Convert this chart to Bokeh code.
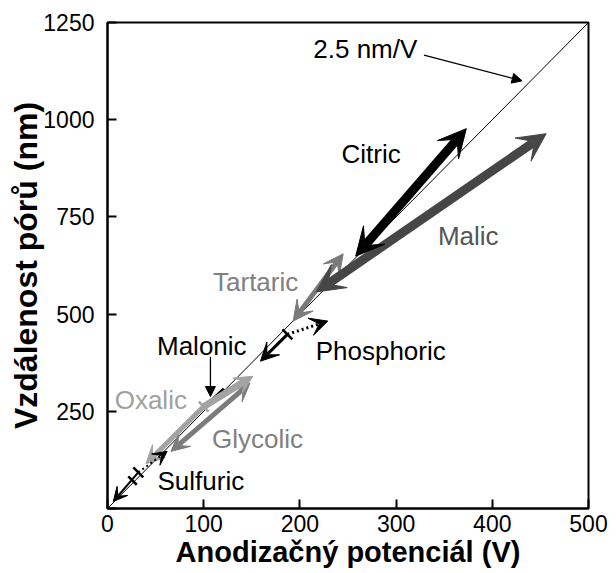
import math
from bokeh.plotting import figure
from bokeh.models import Arrow, VeeHead, NormalHead, Range1d, FixedTicker, Label
from bokeh.embed import file_html
from bokeh.resources import INLINE

# ---------------- data ----------------
slope_nm_per_v = 2.5
v_ref = [0, 500]
x_ticks = [0, 100, 200, 300, 400, 500]
y_ticks = [0, 250, 500, 750, 1000, 1250]

acids = ["Tartaric", "Malic", "Citric", "Glycolic", "Oxalic", "Phosphoric", "Malonic", "Sulfuric"]
v_lo = [193, 217, 258, 66, 40, 159, 101, 6]
d_lo = [482, 557, 649, 147, 115, 379, 262, 18]
v_hi = [245, 456, 373, 148, 151, 229, 121, 62]
d_hi = [655, 964, 977, 322, 340, 482, 308, 147]
# start of the dotted part (None = fully solid)
v_mid = [None, None, None, None, 100, 187, None, 32]
d_mid = [None, None, None, None, 262, 448, None, 93]
sulfuric_extra_v = [26]
sulfuric_extra_d = [72]

# ---------------- styles ----------------
line_col = {"Citric": "#000000", "Malic": "#464646", "Tartaric": "#7a7a7a",
            "Phosphoric": "#000000", "Malonic": "#000000", "Oxalic": "#a3a3a3",
            "Glycolic": "#7c7c7c", "Sulfuric": "#000000"}
lab_col = {"Citric": "#000000", "Malic": "#555555", "Tartaric": "#808080",
           "Phosphoric": "#000000", "Malonic": "#000000", "Oxalic": "#a0a0a0",
           "Glycolic": "#808080", "Sulfuric": "#000000"}
lw = {"Citric": 9, "Malic": 9, "Tartaric": 5, "Phosphoric": 3, "Malonic": 3,
      "Oxalic": 5, "Glycolic": 5, "Sulfuric": 2}
head = {"Citric": 28, "Malic": 28, "Tartaric": 20, "Phosphoric": 18, "Malonic": 0,
        "Oxalic": 18, "Glycolic": 18, "Sulfuric": 14}
lab_pos = {"Citric": (274, 912), "Malic": (375, 701), "Tartaric": (154, 582),
           "Malonic": (98, 418), "Phosphoric": (284, 405), "Oxalic": (45, 278),
           "Glycolic": (156, 178), "Sulfuric": (97, 70)}
FONT = "Liberation Sans"

p = figure(width=616, height=573, output_backend="svg", toolbar_location=None,
           x_range=Range1d(0, 500), y_range=Range1d(0, 1250),
           min_border_left=107, min_border_right=28, min_border_top=22,
           min_border_bottom=65)
p.grid.visible = False
p.outline_line_color = "black"
p.outline_line_width = 2
p.background_fill_color = "white"
p.border_fill_color = "white"

for ax in (p.xaxis[0], p.yaxis[0]):
    ax.axis_line_width = 2
    ax.major_tick_line_width = 2
    ax.major_tick_in = 9
    ax.major_tick_out = 0
    ax.minor_tick_line_color = None
    ax.major_label_text_font = FONT
    ax.major_label_text_font_size = "23px"
    ax.major_label_text_color = "black"
    ax.axis_label_text_font = FONT
    ax.axis_label_text_font_style = "bold"
    ax.axis_label_text_color = "black"

p.xaxis.ticker = FixedTicker(ticks=x_ticks)
p.yaxis.ticker = FixedTicker(ticks=y_ticks)
p.yaxis.major_label_overrides = {0: ""}
p.xaxis.axis_label = "Anodizačný potenciál (V)"
p.yaxis.axis_label = "Vzdálenost pórů (nm)"
p.xaxis.axis_label_text_font_size = "29px"
p.yaxis.axis_label_text_font_size = "32px"
p.xaxis.major_label_standoff = 6
p.xaxis.axis_label_standoff = 1
p.yaxis.major_label_standoff = 13
p.yaxis.axis_label_standoff = -4

# reference line 2.5 nm/V
p.line(v_ref, [slope_nm_per_v * v for v in v_ref], line_color="black", line_width=1)

def add_arrow(x0, y0, x1, y1, color, width, hsize, dash="solid", start=False):
    kw = {}
    if hsize > 0:
        kw["end"] = VeeHead(size=hsize, fill_color=color, line_color=color)
        if start:
            kw["start"] = VeeHead(size=hsize, fill_color=color, line_color=color)
    else:
        kw["end"] = None
    p.add_layout(Arrow(x_start=x0, y_start=y0, x_end=x1, y_end=y1,
                       line_color=color, line_width=width, line_dash=dash, **kw))

for i, name in enumerate(acids):
    c = line_col[name]
    if name == "Malonic":
        p.segment(x0=[v_lo[i]], y0=[d_lo[i]], x1=[v_hi[i]], y1=[d_hi[i]],
                  line_color=c, line_width=lw[name])
        continue
    if v_mid[i] is None:
        add_arrow(v_lo[i], d_lo[i], v_hi[i], d_hi[i], c, lw[name], head[name], start=True)
    else:
        add_arrow(v_mid[i], d_mid[i], v_lo[i], d_lo[i], c, lw[name], head[name])
        if name == "Oxalic":
            add_arrow(v_mid[i], d_mid[i], v_hi[i], d_hi[i], c, lw[name] + 2, head[name])
            fx = v_mid[i] + 0.8 * (v_hi[i] - v_mid[i])
            fy = d_mid[i] + 0.8 * (d_hi[i] - d_mid[i])
            p.segment(x0=[v_mid[i]], y0=[d_mid[i]], x1=[fx], y1=[fy],
                      line_color="white", line_width=4)
            p.segment(x0=[v_mid[i]], y0=[d_mid[i]], x1=[fx], y1=[fy],
                      line_color=c, line_width=2.5, line_dash="2 3")
        else:
            add_arrow(v_mid[i], d_mid[i], v_hi[i], d_hi[i], c, 3 if name == "Phosphoric" else lw[name],
                      head[name], dash="2 3")
        p.scatter([v_mid[i]], [d_mid[i]], marker="dash", size=14, angle=-math.pi / 4,
                  line_color=c, line_width=2.5)
        if name == "Sulfuric":
            p.scatter(sulfuric_extra_v, sulfuric_extra_d, marker="dash", size=12,
                      angle=-math.pi / 4, line_color=c, line_width=2.5)

# labels
for name in acids:
    x, y = lab_pos[name]
    p.add_layout(Label(x=x, y=y, text=name, text_align="center", text_baseline="middle",
                       text_font=FONT, text_font_size="26px", text_color=lab_col[name]))

p.add_layout(Label(x=268, y=1183, text="2.5 nm/V", text_align="center",
                   text_baseline="middle", text_font=FONT, text_font_size="26px",
                   text_color="black"))
p.add_layout(Arrow(x_start=329, y_start=1166, x_end=431, y_end=1100,
                   line_color="black", line_width=1.3,
                   end=NormalHead(size=10, fill_color="black", line_color="black")))
p.add_layout(Arrow(x_start=107, y_start=390, x_end=107, y_end=288,
                   line_color="black", line_width=1.3,
                   end=NormalHead(size=10, fill_color="black", line_color="black")))

open("out.html", "w").write(file_html(p, INLINE))
